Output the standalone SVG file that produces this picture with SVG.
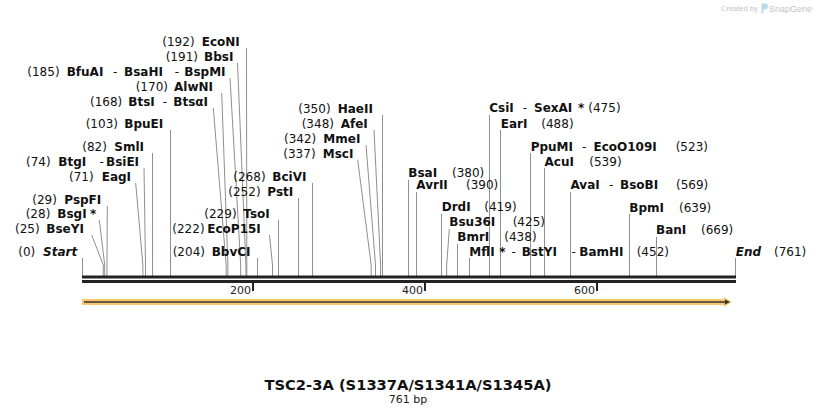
<svg xmlns="http://www.w3.org/2000/svg" width="818" height="415" viewBox="0 0 818 415">
<style>
text{font-family:"DejaVu Sans",Verdana,"Liberation Sans",sans-serif;font-size:12px;fill:#111}
.b{font-weight:bold}
.bi{font-weight:bold;font-style:italic}
.cut{fill:none;stroke:#8f8f8f;stroke-width:1}
.tick{font-size:11px;text-anchor:end;fill:#222}
.wm{font-family:"Liberation Sans",Arial,sans-serif;fill:#c4c4c4}
</style>
<rect width="818" height="415" fill="#fff"/>
<g id="watermark">
<text class="wm" x="721" y="11" style="font-size:7.5px">Created by</text>
<path d="M761.5 3.5h3.5a3 3 0 0 1 0 6h-1.5v4h-2z" fill="#bcd9ee"/>
<text class="wm" x="769" y="11.5" style="font-size:9px">SnapGene</text>
</g>
<g id="connectors">
<polyline class="cut" points="246.5,48 246.8,265 246.8,276"/>
<polyline class="cut" points="237.5,63 245.9,265 245.9,276"/>
<polyline class="cut" points="230,78 240.7,265 240.7,276"/>
<polyline class="cut" points="221.7,93 227.9,265 227.9,276"/>
<polyline class="cut" points="213.3,108 226.2,265 226.2,276"/>
<polyline class="cut" points="170.5,130 170.5,276"/>
<polyline class="cut" points="152.5,153 152.5,276"/>
<polyline class="cut" points="144,168 145.5,265 145.5,276"/>
<polyline class="cut" points="135.7,183 142.9,265 142.9,276"/>
<polyline class="cut" points="107.3,206 107,265 107,276"/>
<polyline class="cut" points="99.3,220 104.7,265 104.7,276"/>
<polyline class="cut" points="91.7,235 103.3,265 103.3,276"/>
<polyline class="cut" points="82.5,258 82.5,276"/>
<polyline class="cut" points="257.5,258 257.5,276"/>
<polyline class="cut" points="269.5,235 272.5,265 272.5,276"/>
<polyline class="cut" points="278.5,220 278.5,276"/>
<polyline class="cut" points="298.5,198 298.5,276"/>
<polyline class="cut" points="312.5,183 312.5,276"/>
<polyline class="cut" points="357.7,160 371.2,265 371.2,276"/>
<polyline class="cut" points="366,145 375.5,265 375.5,276"/>
<polyline class="cut" points="374,130 380.6,265 380.6,276"/>
<polyline class="cut" points="382.5,115 382.5,276"/>
<polyline class="cut" points="408.5,180 408.5,276"/>
<polyline class="cut" points="416.5,192 416.5,276"/>
<polyline class="cut" points="441.5,214 441.5,276"/>
<polyline class="cut" points="449.3,229 446.7,265 446.7,276"/>
<polyline class="cut" points="457.5,244 457.5,276"/>
<polyline class="cut" points="469.5,258 469.5,276"/>
<polyline class="cut" points="489.5,115 489.5,276"/>
<polyline class="cut" points="500.5,130 500.5,276"/>
<polyline class="cut" points="530.5,153 530.5,276"/>
<polyline class="cut" points="544.5,168 544.5,276"/>
<polyline class="cut" points="570.5,192 570.5,276"/>
<polyline class="cut" points="629.5,214 629.5,276"/>
<polyline class="cut" points="656.5,237 656.5,276"/>
<polyline class="cut" points="735.5,258 735.5,276"/>
</g>
<g id="backbone">
<rect x="82" y="275.5" width="654" height="3" fill="#222"/>
<rect x="82" y="280" width="654" height="3" fill="#222"/>
<rect x="252" y="283" width="2" height="8" fill="#222"/>
<rect x="424" y="283" width="2" height="8" fill="#222"/>
<rect x="596" y="283" width="2" height="8" fill="#222"/>
<text class="tick" x="251" y="294">200</text>
<text class="tick" x="423" y="294">400</text>
<text class="tick" x="595" y="294">600</text>
</g>
<g id="feature">
<rect x="82" y="299" width="644" height="6" fill="#f7c56e"/>
<polygon points="724,297 732,302 724,307" fill="#f7c56e"/>
<line x1="84" y1="302" x2="727" y2="302" stroke="#333" stroke-width="1.6"/>
<polygon points="725,299.5 730,302 725,304.5" fill="#333"/>
</g>
<g id="EcoNI"><text y="46"><tspan x="162.3">(192)</tspan><tspan class="b" x="201.7">EcoNI</tspan></text></g>
<g id="BbsI"><text y="61"><tspan x="165.7">(191)</tspan><tspan class="b" x="204">BbsI</tspan></text></g>
<g id="BfuAI"><text y="75.5"><tspan x="27.3">(185)</tspan><tspan class="b" x="66.7">BfuAI</tspan><tspan x="113">-</tspan><tspan class="b" x="124">BsaHI</tspan><tspan x="174.8">-</tspan><tspan class="b" x="184.3">BspMI</tspan></text></g>
<g id="AlwNI"><text y="90.5"><tspan x="135.7">(170)</tspan><tspan class="b" x="174">AlwNI</tspan></text></g>
<g id="BtsI"><text y="106"><tspan x="90">(168)</tspan><tspan class="b" x="128.3">BtsI</tspan><tspan x="162.8">-</tspan><tspan class="b" x="173.3">BtsαI</tspan></text></g>
<g id="BpuEI"><text y="127.7"><tspan x="85.7">(103)</tspan><tspan class="b" x="124.3">BpuEI</tspan></text></g>
<g id="SmlI"><text y="150.7"><tspan x="82.3">(82)</tspan><tspan class="b" x="114.3">SmlI</tspan></text></g>
<g id="BtgI"><text y="165.5"><tspan x="26">(74)</tspan><tspan class="b" x="58.3">BtgI</tspan><tspan x="99.5">-</tspan><tspan class="b" x="106">BsiEI</tspan></text></g>
<g id="EagI"><text y="181"><tspan x="69">(71)</tspan><tspan class="b" x="101.7">EagI</tspan></text></g>
<g id="PspFI"><text y="203.5"><tspan x="32.3">(29)</tspan><tspan class="b" x="64.3">PspFI</tspan></text></g>
<g id="BsgI"><text y="218"><tspan x="25.7">(28)</tspan><tspan class="b" x="57.3">BsgI</tspan><tspan class="b" x="90">*</tspan></text></g>
<g id="BseYI"><text y="233"><tspan x="15">(25)</tspan><tspan class="b" x="46.3">BseYI</tspan></text></g>
<g id="Start"><text y="256"><tspan x="18.3">(0)</tspan><tspan class="bi" x="43">Start</tspan></text></g>
<g id="BbvCI"><text y="255.5"><tspan x="172.7">(204)</tspan><tspan class="b" x="211.7">BbvCI</tspan></text></g>
<g id="EcoP15I"><text y="233"><tspan x="172.3">(222)</tspan><tspan class="b" x="207.3">EcoP15I</tspan></text></g>
<g id="TsoI"><text y="218"><tspan x="204.3">(229)</tspan><tspan class="b" x="243.3">TsoI</tspan></text></g>
<g id="PstI"><text y="195.5"><tspan x="228.3">(252)</tspan><tspan class="b" x="267.3">PstI</tspan></text></g>
<g id="BciVI"><text y="180.5"><tspan x="233.3">(268)</tspan><tspan class="b" x="272.3">BciVI</tspan></text></g>
<g id="MscI"><text y="157.5"><tspan x="283.3">(337)</tspan><tspan class="b" x="322.7">MscI</tspan></text></g>
<g id="MmeI"><text y="142.5"><tspan x="284">(342)</tspan><tspan class="b" x="323.3">MmeI</tspan></text></g>
<g id="AfeI"><text y="127.5"><tspan x="301.7">(348)</tspan><tspan class="b" x="340.7">AfeI</tspan></text></g>
<g id="HaeII"><text y="112.5"><tspan x="298.3">(350)</tspan><tspan class="b" x="337.7">HaeII</tspan></text></g>
<g id="BsaI"><text y="177"><tspan class="b" x="408.3">BsaI</tspan><tspan x="452">(380)</tspan></text></g>
<g id="AvrII"><text y="189"><tspan class="b" x="416.3">AvrII</tspan><tspan x="466">(390)</tspan></text></g>
<g id="DrdI"><text y="211"><tspan class="b" x="441.7">DrdI</tspan><tspan x="484.3">(419)</tspan></text></g>
<g id="Bsu36I"><text y="226"><tspan class="b" x="449.3">Bsu36I</tspan><tspan x="512.7">(425)</tspan></text></g>
<g id="BmrI"><text y="241"><tspan class="b" x="457.3">BmrI</tspan><tspan x="504.3">(438)</tspan></text></g>
<g id="MflI"><text y="255.5"><tspan class="b" x="469.3">MflI</tspan><tspan class="b" x="499.3">*</tspan><tspan x="511.5">-</tspan><tspan class="b" x="521.7">BstYI</tspan><tspan x="571.5">-</tspan><tspan class="b" x="579.3">BamHI</tspan><tspan x="636.7">(452)</tspan></text></g>
<g id="CsiI"><text y="112"><tspan class="b" x="489.3">CsiI</tspan><tspan x="522.8">-</tspan><tspan class="b" x="534">SexAI</tspan><tspan class="b" x="578">*</tspan><tspan x="588.3">(475)</tspan></text></g>
<g id="EarI"><text y="127.7"><tspan class="b" x="500.7">EarI</tspan><tspan x="541.3">(488)</tspan></text></g>
<g id="PpuMI"><text y="150.7"><tspan class="b" x="530.7">PpuMI</tspan><tspan x="582">-</tspan><tspan class="b" x="593.5">EcoO109I</tspan><tspan x="675.7">(523)</tspan></text></g>
<g id="AcuI"><text y="165.7"><tspan class="b" x="544.5">AcuI</tspan><tspan x="589.3">(539)</tspan></text></g>
<g id="AvaI"><text y="189"><tspan class="b" x="570.5">AvaI</tspan><tspan x="609">-</tspan><tspan class="b" x="620">BsoBI</tspan><tspan x="676">(569)</tspan></text></g>
<g id="BpmI"><text y="211.5"><tspan class="b" x="629.3">BpmI</tspan><tspan x="679">(639)</tspan></text></g>
<g id="BanI"><text y="234"><tspan class="b" x="656">BanI</tspan><tspan x="701">(669)</tspan></text></g>
<g id="End"><text y="255.5"><tspan class="bi" x="735.7">End</tspan><tspan x="774">(761)</tspan></text></g>
<g id="title">
<text x="408" y="390" text-anchor="middle" style="font-size:14.7px;font-weight:bold">TSC2-3A (S1337A/S1341A/S1345A)</text>
<text x="408" y="403" text-anchor="middle" style="font-size:11px;fill:#222">761 bp</text>
</g>
</svg>
